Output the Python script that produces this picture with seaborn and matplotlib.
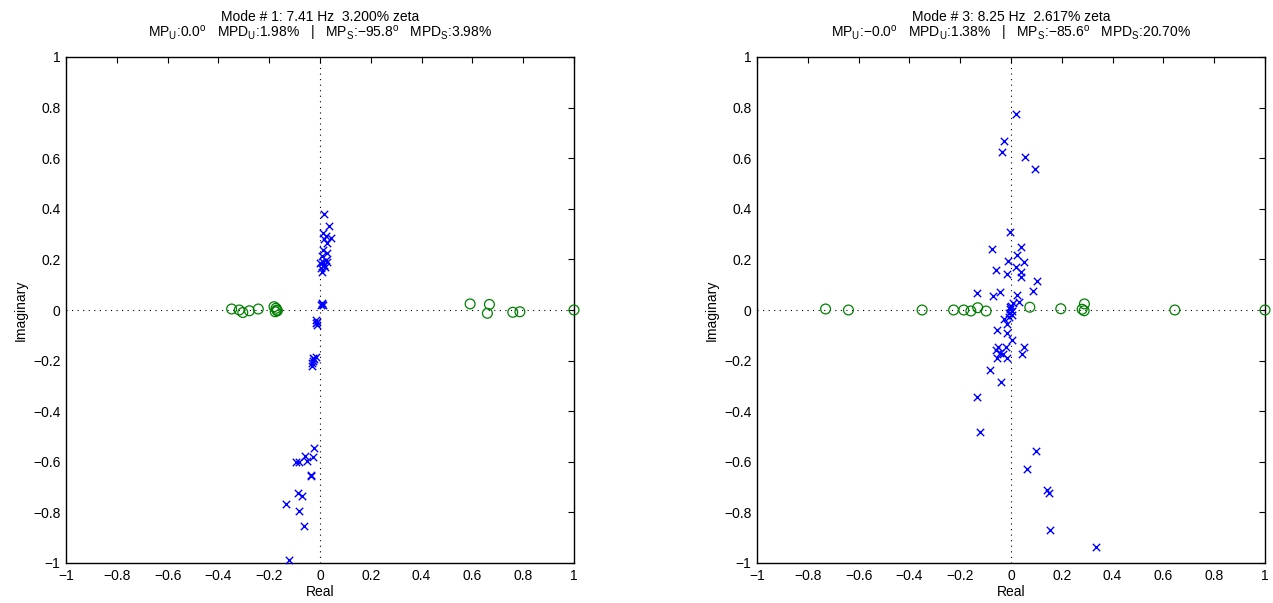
import numpy as np
import pandas as pd
import matplotlib
matplotlib.use("Agg")
import matplotlib.pyplot as plt
import seaborn as sns

# ---------------- data ----------------
m1_titles = ["Mode # 1: 7.41 Hz  3.200% zeta",
             "MP$_{\\rm U}$:0.0$^{\\rm o}$   MPD$_{\\rm U}$:1.98%   |   MP$_{\\rm S}$:\u221295.8$^{\\rm o}$   MPD$_{\\rm S}$:3.98%"]
m3_titles = ["Mode # 3: 8.25 Hz  2.617% zeta",
             "MP$_{\\rm U}$:\u22120.0$^{\\rm o}$   MPD$_{\\rm U}$:1.38%   |   MP$_{\\rm S}$:\u221285.6$^{\\rm o}$   MPD$_{\\rm S}$:20.70%"]

m1_x_re = [0.016, 0.035, 0.013, 0.024, 0.045, 0.016, 0.026, 0.013, 0.029, 0.007, 0.000, 0.017, 0.026, 0.004,
           0.020, 0.009, 0.012, 0.022,
           0.007, 0.009, 0.005, 0.010,
           -0.013, -0.016, -0.011, -0.014,
           -0.026, -0.033, -0.016, -0.029, -0.022, -0.031,
           -0.022, -0.059, -0.029, -0.094, -0.081, -0.050, -0.037, -0.034, -0.088, -0.072, -0.134, -0.084,
           -0.062, -0.121]
m1_x_im = [0.378, 0.333, 0.303, 0.292, 0.286, 0.279, 0.264, 0.237, 0.224, 0.213, 0.185, 0.178, 0.188, 0.165,
           0.170, 0.151, 0.190, 0.196,
           0.022, 0.026, 0.018, 0.020,
           -0.046, -0.052, -0.058, -0.040,
           -0.190, -0.210, -0.185, -0.200, -0.195, -0.222,
           -0.547, -0.577, -0.582, -0.600, -0.602, -0.596, -0.652, -0.655, -0.725, -0.734, -0.767, -0.796,
           -0.853, -0.988]
m1_o_re = [-0.348, -0.318, -0.304, -0.278, -0.243, -0.181, -0.173, -0.168, -0.176, -0.170,
           0.591, 0.667, 0.659, 0.759, 0.787, 1.0]
m1_o_im = [0.004, 0.0, -0.010, -0.003, 0.004, 0.013, 0.007, -0.003, -0.007, 0.0,
           0.024, 0.022, -0.013, -0.009, -0.007, 0.0]

m3_x_re = [0.018, -0.028, -0.036, 0.057, 0.096, -0.003, -0.074, 0.040, 0.024, -0.010, 0.052, 0.018, -0.058,
           -0.017, 0.039, 0.039, 0.104, 0.086, -0.133, -0.072, -0.043, 0.023, 0.033, 0.007,
           0.000, -0.004, 0.003, -0.006, 0.002, -0.003, -0.008,
           -0.026, -0.056, -0.017, -0.014, 0.005, -0.053, -0.019, 0.050, 0.044, -0.058, -0.043, -0.056,
           -0.030, -0.015, -0.082, -0.040, -0.132, -0.124, 0.099, 0.062, 0.142, 0.148, 0.152, 0.333]
m3_x_im = [0.775, 0.667, 0.626, 0.604, 0.558, 0.307, 0.241, 0.248, 0.217, 0.195, 0.189, 0.171, 0.158,
           0.141, 0.151, 0.129, 0.113, 0.076, 0.066, 0.057, 0.071, 0.060, 0.033, 0.026,
           0.015, 0.005, -0.005, -0.012, -0.020, 0.010, -0.028,
           -0.037, -0.079, -0.057, -0.092, -0.119, -0.145, -0.145, -0.148, -0.174, -0.158, -0.169, -0.191,
           -0.174, -0.191, -0.237, -0.285, -0.343, -0.483, -0.558, -0.628, -0.711, -0.722, -0.870, -0.938]
m3_o_re = [-0.730, -0.640, -0.350, -0.226, -0.186, -0.158, -0.131, -0.098, 0.074, 0.196, 0.289, 0.280,
           0.288, 0.645, 1.0]
m3_o_im = [0.004, 0.0, 0.0, 0.0, 0.0, -0.004, 0.009, -0.004, 0.011, 0.005, 0.024, 0.003,
           -0.003, 0.0, 0.0]

tick_vals = [-1, -0.8, -0.6, -0.4, -0.2, 0, 0.2, 0.4, 0.6, 0.8, 1]
tick_labels = ["\u22121", "\u22120.8", "\u22120.6", "\u22120.4", "\u22120.2", "0",
               "0.2", "0.4", "0.6", "0.8", "1"]

# ---------------- style ----------------
sns.set_theme(style="white")
plt.rcParams["font.family"] = ["Liberation Sans", "DejaVu Sans"]
plt.rcParams["mathtext.fontset"] = "custom"
plt.rcParams["mathtext.rm"] = "Liberation Sans"
plt.rcParams["mathtext.it"] = "Liberation Sans:italic"
plt.rcParams["mathtext.bf"] = "Liberation Sans:bold"
plt.rcParams["axes.unicode_minus"] = True
plt.rcParams["text.color"] = "black"
plt.rcParams["axes.labelcolor"] = "black"
plt.rcParams["xtick.color"] = "black"
plt.rcParams["ytick.color"] = "black"

W, H = 1273, 603
fig = plt.figure(figsize=(W / 100, H / 100), dpi=100)
fig.patch.set_facecolor("white")

panels = [
    (66, m1_titles, m1_x_re, m1_x_im, m1_o_re, m1_o_im),
    (757, m3_titles, m3_x_re, m3_x_im, m3_o_re, m3_o_im),
]

for left_px, titles, xr, xi, orr, oi in panels:
    ax = fig.add_axes([left_px / W, 1 - 563 / H, 508 / W, 506 / H])
    ax.axhline(0, color="black", linestyle=(0, (1, 4)), linewidth=0.8, zorder=1)
    ax.axvline(0, color="black", linestyle=(0, (1, 4)), linewidth=0.8, zorder=1)
    dfo = pd.DataFrame({"re": orr, "im": oi})
    dfx = pd.DataFrame({"re": xr, "im": xi})
    sns.scatterplot(data=dfo, x="re", y="im", ax=ax, marker="o", s=50,
                    facecolor="none", edgecolor="#008000", color="#008000",
                    linewidth=0.9, zorder=3, clip_on=False)
    sns.scatterplot(data=dfx, x="re", y="im", ax=ax, marker="x", s=28,
                    color="#0000ff", linewidth=1.0, zorder=4, clip_on=False)
    ax.set_xlim(-1, 1)
    ax.set_ylim(-1, 1)
    ax.set_xticks(tick_vals)
    ax.set_xticklabels(tick_labels)
    ax.set_yticks(tick_vals)
    ax.set_yticklabels(tick_labels)
    ax.tick_params(direction="in", length=4, width=0.8, top=True, right=True,
                   labelsize=10, colors="black", pad=4)
    for sp in ax.spines.values():
        sp.set_visible(True)
        sp.set_color("black")
        sp.set_linewidth(1.0)
        sp.set_zorder(2)
    ax.set_xlabel("Real", fontsize=10, labelpad=2, color="black")
    ax.set_ylabel("Imaginary", fontsize=10, labelpad=4, color="black")
    cx = (left_px + 254) / W
    fig.text(cx, 1 - 21 / H, titles[0], ha="center", va="baseline", fontsize=10, color="black")
    fig.text(cx, 1 - 37.5 / H, titles[1], ha="center", va="baseline", fontsize=10, color="black")

fig.savefig("out.png", dpi=100, facecolor="white")
